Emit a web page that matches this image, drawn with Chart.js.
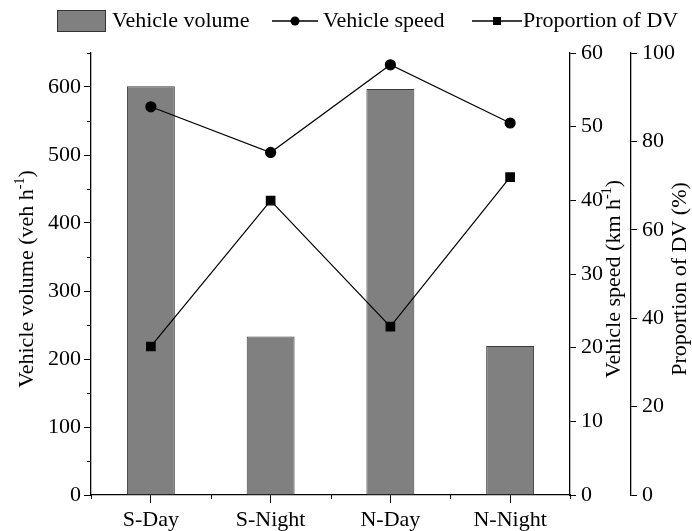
<!DOCTYPE html>
<html>
<head>
<meta charset="utf-8">
<script src="https://cdn.jsdelivr.net/npm/chart.js@4/dist/chart.umd.min.js"></script>
<style>
  body { margin: 0; background: #fff; }
  canvas { display: block; }
</style>
</head>
<body>
<canvas id="myChart" width="692" height="531"></canvas>
<script>
var categories = ["S-Day", "S-Night", "N-Day", "N-Night"];
var vehicleVolume = [601, 233, 597, 219];
var vehicleSpeed = [52.7, 46.5, 58.4, 50.5];
var proportionDV = [33.6, 66.6, 38.1, 71.9];

var volumeTicks = [0, 100, 200, 300, 400, 500, 600];
var volumeMinorTicks = [50, 150, 250, 350, 450, 550, 650];
var speedTicks = [0, 10, 20, 30, 40, 50, 60];
var proportionTicks = [0, 20, 40, 60, 80, 100];

var FONT = "'Liberation Serif', 'Times New Roman', serif";
var FS = 22;

function setTicks(list) {
  return function (scale) {
    scale.ticks = list.map(function (v) { return { value: v }; });
  };
}

// rotated axis title, reads bottom to top, with optional superscript part
function drawTitle(ctx, x, y, parts) {
  ctx.save();
  ctx.translate(x, y);
  ctx.rotate(-Math.PI / 2);
  ctx.fillStyle = "#000";
  ctx.textBaseline = "middle";
  ctx.textAlign = "left";
  var total = 0;
  parts.forEach(function (p) {
    ctx.font = (p.sup ? 14 : FS) + "px " + FONT;
    p.w = ctx.measureText(p.text).width;
    total += p.w;
  });
  var cx = -total / 2;
  parts.forEach(function (p) {
    ctx.font = (p.sup ? 14 : FS) + "px " + FONT;
    ctx.fillText(p.text, cx, p.sup ? -7 : 0);
    cx += p.w;
  });
  ctx.restore();
}

var decorations = {
  id: "decorations",
  afterDraw: function (chart) {
    var ctx = chart.ctx;
    var area = chart.chartArea;
    var sx = chart.scales.x;
    var sy = chart.scales.y;

    ctx.save();
    ctx.strokeStyle = "#000";
    ctx.lineWidth = 1;

    // minor ticks on the left axis
    volumeMinorTicks.forEach(function (v) {
      var py = Math.round(sy.getPixelForValue(v)) + 0.5;
      ctx.beginPath();
      ctx.moveTo(area.left - 4, py);
      ctx.lineTo(area.left, py);
      ctx.stroke();
    });

    // minor ticks between categories on the x axis
    var half = (sx.getPixelForValue(1) - sx.getPixelForValue(0)) / 2;
    for (var i = 0; i <= categories.length; i++) {
      var px = Math.round(sx.getPixelForValue(i) - half) + 0.5;
      ctx.beginPath();
      ctx.moveTo(px, area.bottom);
      ctx.lineTo(px, area.bottom + 4);
      ctx.stroke();
    }
    ctx.restore();

    // axis titles
    var midY = (area.top + area.bottom) / 2 + 5;
    drawTitle(ctx, 27, midY, [{ text: "Vehicle volume (veh h" }, { text: "-1", sup: true }, { text: ")" }]);
    drawTitle(ctx, 614, midY, [{ text: "Vehicle speed (km h" }, { text: "-1", sup: true }, { text: ")" }]);
    drawTitle(ctx, 680, midY, [{ text: "Proportion of DV (%)" }]);

    // legend
    ctx.save();
    ctx.font = FS + "px " + FONT;
    ctx.textBaseline = "middle";
    var ly = 21;
    ctx.fillStyle = "#808080";
    ctx.fillRect(57, 10, 49, 22);
    ctx.strokeStyle = "#333";
    ctx.lineWidth = 1;
    ctx.strokeRect(57.5, 10.5, 48, 21);
    ctx.fillStyle = "#000";
    ctx.fillText("Vehicle volume", 112, ly);

    ctx.strokeStyle = "#000";
    ctx.lineWidth = 1.3;
    ctx.beginPath();
    ctx.moveTo(272, ly);
    ctx.lineTo(318, ly);
    ctx.stroke();
    ctx.beginPath();
    ctx.arc(295, ly, 4.5, 0, Math.PI * 2);
    ctx.fill();
    ctx.fillText("Vehicle speed", 323, ly);

    ctx.beginPath();
    ctx.moveTo(472, ly);
    ctx.lineTo(522, ly);
    ctx.stroke();
    ctx.fillRect(493, ly - 4, 8, 8);
    ctx.fillText("Proportion of DV", 523, ly);
    ctx.restore();
  }
};

var ctx = document.getElementById("myChart").getContext("2d");

var myChart = new Chart(ctx, {
  type: "bar",
  data: {
    labels: categories,
    datasets: [
      {
        type: "line",
        label: "Vehicle speed",
        data: vehicleSpeed,
        yAxisID: "speed",
        borderColor: "#000",
        backgroundColor: "#000",
        borderWidth: 1.2,
        pointStyle: "circle",
        pointRadius: 5,
        tension: 0,
        order: 0,
      },
      {
        type: "line",
        label: "Proportion of DV",
        data: proportionDV,
        yAxisID: "prop",
        borderColor: "#000",
        backgroundColor: "#000",
        borderWidth: 1.2,
        pointStyle: "rect",
        pointRadius: 6,
        tension: 0,
        order: 1,
      },
      {
        label: "Vehicle volume",
        data: vehicleVolume,
        yAxisID: "y",
        backgroundColor: "#808080",
        borderColor: "#3a3a3a",
        borderWidth: 1,
        barPercentage: 0.4,
        categoryPercentage: 1,
        order: 2,
      },
    ],
  },
  options: {
    responsive: false,
    animation: false,
    layout: {
      padding: { top: 53, left: 0, right: 0, bottom: 0 },
    },
    plugins: {
      legend: { display: false },
      tooltip: { enabled: false },
    },
    scales: {
      x: {
        afterFit: function (s) { s.height = 36; },
        grid: {
          offset: false,
          drawOnChartArea: false,
          tickLength: 8,
          color: "#000",
        },
        border: { color: "#000", width: 1.3 },
        ticks: {
          color: "#000",
          font: { family: FONT, size: FS },
          padding: 4,
          maxRotation: 0,
        },
      },
      y: {
        position: "left",
        min: 0,
        max: 650,
        afterBuildTicks: setTicks(volumeTicks),
        afterFit: function (s) { s.width = 91; },
        grid: {
          drawOnChartArea: false,
          tickLength: 7,
          color: "#000",
        },
        border: { color: "#000", width: 1.3 },
        ticks: {
          color: "#000",
          font: { family: FONT, size: FS },
          padding: 3,
        },
      },
      speed: {
        position: "right",
        min: 0,
        max: 60,
        afterBuildTicks: setTicks(speedTicks),
        afterFit: function (s) { s.width = 61; },
        grid: {
          drawOnChartArea: false,
          tickLength: 6,
          color: "#000",
        },
        border: { color: "#000", width: 1.3 },
        ticks: {
          color: "#000",
          font: { family: FONT, size: FS },
          padding: 5,
        },
      },
      prop: {
        position: "right",
        min: 0,
        max: 100,
        afterBuildTicks: setTicks(proportionTicks),
        afterFit: function (s) { s.width = 61; },
        grid: {
          drawOnChartArea: false,
          tickLength: 6,
          color: "#000",
        },
        border: { color: "#000", width: 1.3 },
        ticks: {
          color: "#000",
          font: { family: FONT, size: FS },
          padding: 5,
        },
      },
    },
  },
  plugins: [decorations],
});
</script>
</body>
</html>
